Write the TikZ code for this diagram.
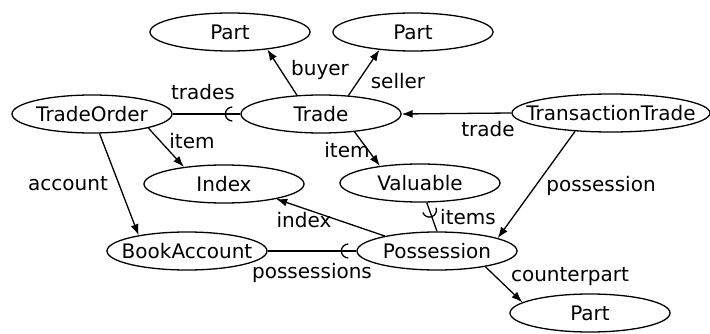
\documentclass[tikz,border=0pt]{standalone}
\usepackage{fontspec}
\setmainfont{DejaVu Sans}
\usetikzlibrary{arrows.meta,decorations.markings,shapes.geometric}
\begin{document}
\begin{tikzpicture}[x=1pt,y=-1pt,
  lbl/.style={font=\fontsize{20}{24}\selectfont,inner sep=0pt},
  entity/.style={draw,ellipse,line width=1.3pt,minimum width=160pt,minimum height=38pt,inner sep=0pt,
    label={[lbl]center:#1}},
  rel/.style={line width=1.3pt,-{Latex[length=11pt,width=8pt]}},
  many/.style={line width=1.3pt,postaction={decorate},decoration={markings,
    mark=at position 1 with {\draw[line width=1.3pt] (-8pt,7pt) arc[start angle=90,end angle=270,radius=7pt];}}}]
\useasboundingbox (0,0) rectangle (710,334);

% entities
\node[entity=Part] (part1) at (230,32) {};
\node[entity=Part] (part2) at (413,32) {};
\node[entity=TradeOrder] (order) at (92,114) {};
\node[entity=Trade] (trade) at (321,114) {};
\node[entity=TransactionTrade,minimum width=198pt] (tt) at (611,113) {};
\node[entity=Index] (index) at (224,184) {};
\node[entity=Valuable] (val) at (420,183) {};
\node[entity=BookAccount] (book) at (187,251) {};
\node[entity=Possession] (poss) at (437,251) {};
\node[entity=Part] (part3) at (590,313) {};

% relations
\draw[rel] (trade.142) -- (part1.-25);
\draw[rel] (trade.34) -- (part2.208);
\draw[many] (order.east) -- (trade.west);
\draw[rel] (order.-14) -- (index.157);
\draw[rel] (order.-69) -- (book.162);
\draw[rel] (trade.-28) -- (val.157);
\draw[rel] (tt.west) -- (trade.east);
\draw[rel] (tt.207) -- (poss.12);
\draw[rel] (poss.164) -- (index.-16);
\draw[many] (poss.90) -- (val.-71);
\draw[many] (book.east) -- (poss.west);
\draw[rel] (poss.-18) -- (part3.171);

% relation names
\node[lbl] (lbuyer) at (320,70) {buyer};
\node[lbl] (lseller) at (398,81) {seller};
\node[lbl] (ltrades) at (203,92) {trades};
\node[lbl] (litem1) at (192,141) {item};
\node[lbl] (laccount) at (68,184) {account};
\node[lbl] (litem2) at (347,150) {item};
\node[lbl] (ltrade) at (488,129) {trade};
\node[lbl] (lposs) at (601,186) {possession};
\node[lbl] (lindex) at (304,220) {index};
\node[lbl] (litems) at (468,217) {items};
\node[lbl] (lposses) at (312,273) {possessions};
\node[lbl] (lcounter) at (570,277) {counterpart};
\end{tikzpicture}
\end{document}
